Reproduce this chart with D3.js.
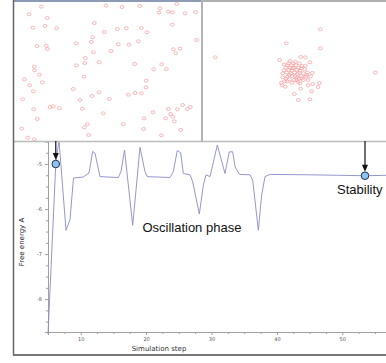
<!DOCTYPE html>
<html>
<head>
<meta charset="utf-8">
<script src="https://cdn.jsdelivr.net/npm/d3@7"></script>
<style>
  body { margin: 0; background: #fff; }
  svg { display: block; }
</style>
</head>
<body>
<div id="chart"></div>
<script>
// energy trace
const steps = [5.0, 6.19, 6.68, 7.75, 8.36, 8.9, 10.35, 11.27, 11.83, 12.19, 12.95, 15.75, 16.16, 16.7, 17.95,
  19.07, 19.83, 20.18, 23.65, 24.16, 24.77, 25.29, 25.69, 26.71, 27.12, 28.14, 28.75, 29.16, 29.77, 30.89,
  32.06, 32.72, 33.24, 33.6, 34.25, 35.89, 36.3, 37.16, 37.67, 38.18, 38.94, 45.0, 53.47, 57.0];
const energy = [-8.78, -5.0, -4.47, -6.47, -6.24, -5.31, -5.29, -5.2, -4.72, -4.76, -5.28, -5.3, -5.17, -4.69, -6.36,
  -4.63, -5.17, -5.28, -5.3, -5.17, -4.7, -4.75, -5.21, -5.24, -5.39, -6.11, -5.47, -5.24, -5.28, -4.58,
  -5.21, -4.73, -4.73, -5.06, -5.23, -5.24, -5.36, -6.47, -5.69, -5.28, -5.23, -5.24, -5.26, -5.25];

const xTicks = [10, 20, 30, 40, 50];
const yTicks = [-5, -6, -7, -8];

// snapshots marked on the trace
const markStep = [6.19, 53.47];
const markEnergy = [-5.0, -5.26];

// particle positions in the two snapshots (box units)
const startParticles = [[124,20],[318,17],[366,21],[419,18],[530,12],[480,25],[477,38],[505,35],[517,37],[555,40],[587,37],
  [87,43],[142,54],[283,69],[517,74],[99,83],[135,78],[170,85],[352,87],[379,85],[424,84],[441,97],[313,96],[278,112],
  [274,126],[415,124],[590,120],[229,130],[355,133],[387,134],[111,138],[139,137],[142,147],[333,153],[280,157],[520,148],
  [540,146],[527,160],[256,174],[254,189],[298,187],[404,192],[485,193],[229,196],[103,200],[104,211],[461,208],[499,207],
  [118,224],[252,230],[73,238],[439,242],[127,247],[89,256],[438,262],[100,274],[220,267],[297,277],[385,284],[405,279],
  [424,280],[276,288],[68,298],[240,300],[328,297],[548,315],[571,321],[562,327],[532,328],[505,327],[150,321],[160,319],
  [178,325],[101,328],[247,326],[310,340],[459,337],[512,342],[518,350],[497,355],[112,357],[432,355],[523,364],[262,373],
  [370,373],[253,382],[65,386],[431,387],[542,390],[83,413],[103,418],[266,405],[484,406]];
const endParticles = [[361,88],[259,130],[361,145],[46,172],[302,171],[316,172],[239,180],[270,183],[286,185],[330,187],
  [298,190],[252,194],[262,196],[275,196],[288,196],[306,198],[316,197],[258,203],[270,203],[282,203],[296,203],[304,205],
  [252,211],[266,210],[276,212],[290,210],[300,212],[314,208],[260,218],[272,220],[284,218],[298,218],[310,220],[322,218],
  [337,219],[526,218],[248,232],[262,230],[276,228],[290,232],[304,228],[318,230],[332,229],[268,238],[282,240],[296,236],
  [310,240],[324,240],[254,244],[262,244],[276,248],[294,246],[244,248],[358,249],[246,256],[256,260],[302,266],[324,256],
  [338,252],[354,261],[335,274],[283,282],[295,300],[330,298],[265,190],[280,190],[292,222],[268,225],[306,235],[258,236],
  [290,240],[278,205],[320,225],[248,220],[286,228],[300,250]];

const W = 386, H = 363;

const svg = d3.select("#chart").append("svg")
  .attr("width", W).attr("height", H)
  .style("font-family", "'DejaVu Sans', sans-serif");

svg.append("rect").attr("width", W).attr("height", H).attr("fill", "#fff");

const x = d3.scaleLinear().domain([5, 56.68]).range([48, 386]);
const y = d3.scaleLinear().domain([-8.73, -4.5]).range([332, 141.5]);

// axes
const xAxis = svg.append("g").attr("transform", "translate(0,332)")
  .call(d3.axisBottom(x).tickValues(xTicks).tickSize(3).tickPadding(2).tickFormat(d => d));
const xMinor = svg.append("g").attr("transform", "translate(0,332)")
  .call(d3.axisBottom(x).tickValues(d3.range(7.5, 57, 2.5).filter(v => v % 10 !== 0)).tickSize(2).tickFormat(""));
const yAxis = svg.append("g").attr("transform", "translate(48,0)")
  .call(d3.axisLeft(y).tickValues(yTicks).tickSize(3).tickPadding(3).tickFormat(d => String(d)));
const yMinor = svg.append("g").attr("transform", "translate(48,0)")
  .call(d3.axisLeft(y).tickValues(d3.range(-8.5, -4.5, 0.25).filter(v => v % 1 !== 0)).tickSize(2).tickFormat(""));

[xAxis, xMinor, yAxis, yMinor].forEach(g => {
  g.select(".domain").attr("stroke", "#a0a0a0");
  g.selectAll(".tick line").attr("stroke", "#a0a0a0");
  g.selectAll("text").attr("font-size", 5).attr("fill", "#555").attr("font-family", "'DejaVu Sans', sans-serif");
});

svg.append("text")
  .attr("x", 159).attr("y", 351)
  .attr("text-anchor", "middle")
  .attr("font-size", 7).attr("fill", "#333")
  .text("Simulation step");

svg.append("text")
  .attr("transform", "translate(24,242) rotate(-90)")
  .attr("text-anchor", "middle")
  .attr("font-size", 7).attr("fill", "#222")
  .text("Free energy A");

// trace
const line = d3.line().x((d, i) => x(steps[i])).y(d => y(d));
svg.append("path")
  .datum(energy)
  .attr("d", line)
  .attr("fill", "none")
  .attr("stroke", "#8a8acb")
  .attr("stroke-width", 0.9);

// annotations
svg.append("text")
  .attr("x", x(27.0)).attr("y", y(-6.51))
  .attr("text-anchor", "middle")
  .attr("font-family", "'Liberation Sans', Arial, sans-serif")
  .attr("font-size", 13).attr("fill", "#111")
  .text("Oscillation phase");

svg.append("text")
  .attr("x", x(49.2)).attr("y", y(-5.67))
  .attr("font-family", "'Liberation Sans', Arial, sans-serif")
  .attr("font-size", 13).attr("fill", "#111")
  .text("Stability");

// snapshot panels
const panels = [
  { x0: 14, x1: 201, bar: "#8d9cb3", pts: startParticles, dom: [600, 435], left: false },
  { x0: 201, x1: 386, bar: "#aeb0b2", pts: endParticles, dom: [558, 435], left: true }
];
panels.forEach(p => {
  const g = svg.append("g");
  g.append("rect").attr("x", p.x0).attr("y", 0).attr("width", p.x1 - p.x0).attr("height", 141.5).attr("fill", "#fff");
  const offset = p.left ? 200 : 0;
  const px = d3.scaleLinear().domain([0, p.dom[0]]).range([offset, offset + p.dom[0] / 3]);
  const py = d3.scaleLinear().domain([0, p.dom[1]]).range([0, 145]);
  g.selectAll("ellipse").data(p.pts).enter().append("ellipse")
    .attr("cx", d => px(d[0])).attr("cy", d => py(d[1]))
    .attr("rx", 1.9).attr("ry", 1.5)
    .attr("fill", "none").attr("stroke", "#f4a0a0").attr("stroke-width", 0.75);
  g.append("rect").attr("x", p.x0).attr("y", 0).attr("width", p.x1 - p.x0).attr("height", 2).attr("fill", p.bar);
  g.append("line").attr("x1", p.x0).attr("x2", p.x1).attr("y1", 141.5).attr("y2", 141.5)
    .attr("stroke", "#bcbcbc").attr("stroke-width", 1.5);
  if (p.left) {
    g.append("line").attr("x1", p.x0 + 1).attr("x2", p.x0 + 1).attr("y1", 0).attr("y2", 141.5)
      .attr("stroke", "#b4b4b4").attr("stroke-width", 2);
  }
});

// outer frame
svg.append("line").attr("x1", 13.5).attr("x2", 13.5).attr("y1", 0).attr("y2", 355)
  .attr("stroke", "#666").attr("stroke-width", 1.5);
svg.append("line").attr("x1", 13).attr("x2", W).attr("y1", 355).attr("y2", 355)
  .attr("stroke", "#777").attr("stroke-width", 2);

// arrows and markers
markStep.forEach((s, i) => {
  const cx = x(s), cy = y(markEnergy[i]);
  svg.append("line").attr("x1", cx).attr("x2", cx).attr("y1", 141).attr("y2", cy - 9)
    .attr("stroke", "#111").attr("stroke-width", 1.2);
  svg.append("path")
    .attr("d", `M${cx - 3},${cy - 11} L${cx + 3},${cy - 11} L${cx},${cy - 4} Z`)
    .attr("fill", "#111");
  svg.append("circle").attr("cx", cx).attr("cy", cy).attr("r", 3.8)
    .attr("fill", "#8cc4f2").attr("stroke", "#1f3350").attr("stroke-width", 1);
});
</script>
</body>
</html>
